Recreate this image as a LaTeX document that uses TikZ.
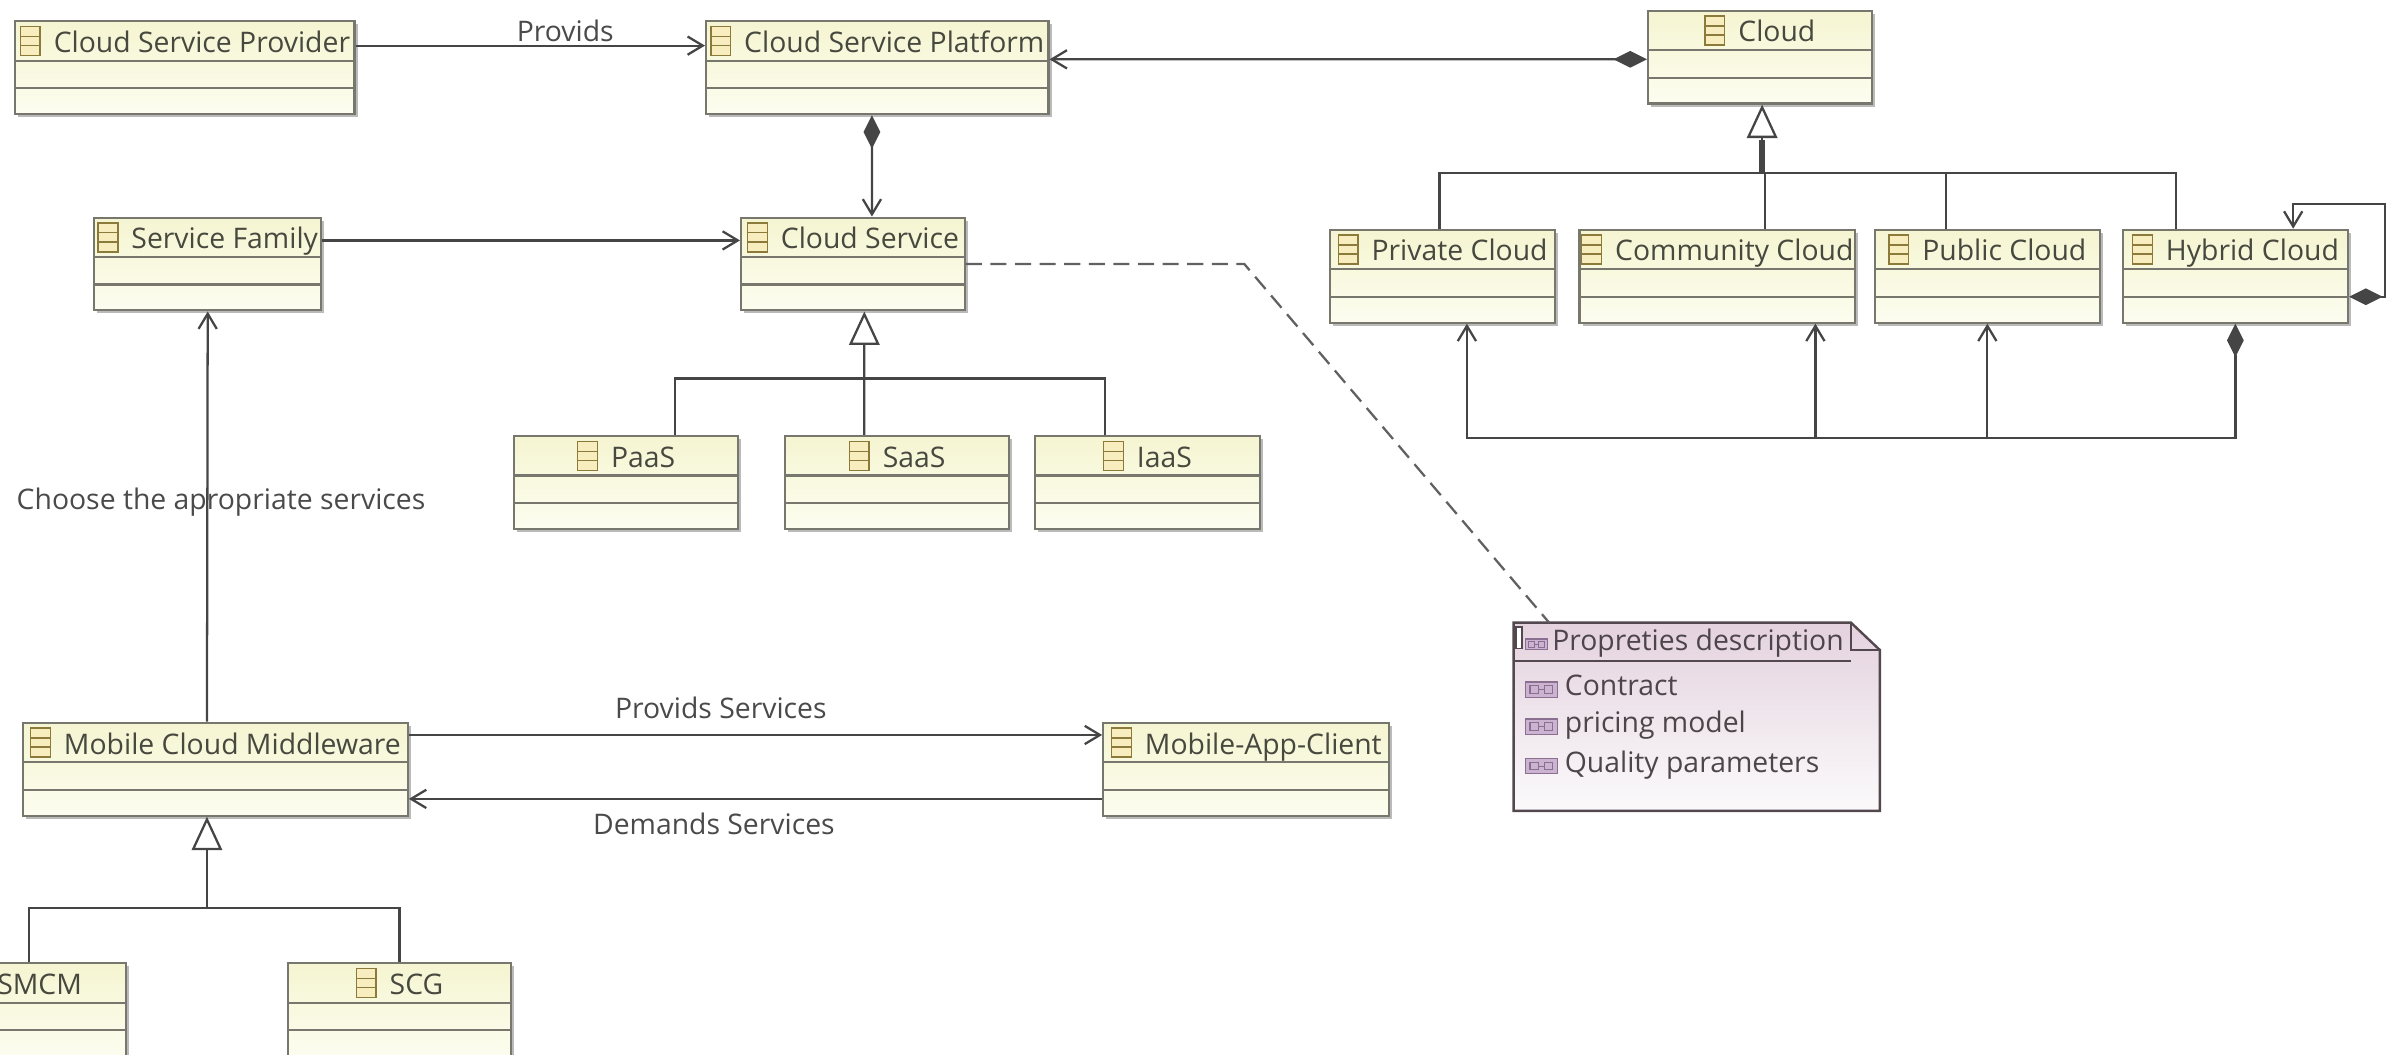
\documentclass[tikz,border=0pt]{standalone}
\usepackage{fontspec}
\setmainfont{Open Sans}
\usetikzlibrary{arrows.meta,positioning,shadows}

\definecolor{boxline}{HTML}{77776E}
\definecolor{boxtop}{HTML}{F5F5D2}
\definecolor{boxbottom}{HTML}{FDFDF0}
\definecolor{boxtext}{HTML}{47483E}
\definecolor{iconline}{HTML}{8C7A3A}
\definecolor{iconfill}{HTML}{F8EDBE}
\definecolor{linkline}{HTML}{454545}
\definecolor{linktext}{HTML}{4A4A4A}
\definecolor{notetop}{HTML}{E4D2DE}
\definecolor{notebottom}{HTML}{FBFAFB}
\definecolor{noteline}{HTML}{54484F}
\definecolor{notetext}{HTML}{4E454B}
\definecolor{attrline}{HTML}{8A6F90}
\definecolor{attrfill}{HTML}{CDB3D2}

\newcommand{\classicon}{\tikz[x=1cm,y=1cm,baseline=-.15cm]{
	\draw[iconline,fill=iconfill,line width=.5pt] (0,-.19) rectangle (.26,.19);
	\draw[iconline,line width=.5pt] (0,-.06) -- (.26,-.06) (0,.06) -- (.26,.06);}\hspace{.17cm}}
\newcommand{\attricon}[1]{\tikz[x=1cm,y=1cm,baseline=-.08cm,scale=#1]{
	\draw[attrline,fill=attrfill,line width=.5pt] (0,-.1) rectangle (.42,.1);
	\draw[attrline,line width=.4pt] (.06,-.05) rectangle (.17,.05) (.25,-.05) rectangle (.36,.05) (.17,0) -- (.25,0);}}

\tikzset{
	comp/.tip={Diamond[length=.44cm,width=.22cm]},
	gen/.tip={Triangle[open,length=.44cm,width=.4cm,fill=white]},
	>={Straight Barb[length=.2cm,width=.24cm]},
	classbox/.style={draw=boxline,
		line width=.8pt,
		top color=boxtop,
		bottom color=boxbottom,
		drop shadow={shadow xshift=.04cm,shadow yshift=-.04cm,fill=black!45,opacity=.6},
		text=boxtext,
		font=\fontsize{10.6}{12}\selectfont,
		inner sep=0pt,
		minimum width=#1,
		minimum height=1.22cm,
		text height=.41cm,
		text depth=.81cm,
		path picture={
			\draw[boxline,line width=.8pt] ([yshift=-.52cm]path picture bounding box.north west) -- ([yshift=-.52cm]path picture bounding box.north east);
			\draw[boxline,line width=.8pt] ([yshift=-.88cm]path picture bounding box.north west) -- ([yshift=-.88cm]path picture bounding box.north east);}},
	classbox/.default=2.96cm,
	link/.style={draw=linkline,line width=.85pt},
	linklabel/.style={text=linktext,font=\fontsize{10.6}{12}\selectfont,inner sep=1pt},
	noteitem/.style={text=notetext,font=\fontsize{10.6}{12}\selectfont,inner sep=0pt,anchor=west}
}

\begin{document}
\begin{tikzpicture}[on grid]

\clip (0,0) rectangle (31.36,-13.866);

% Cloud side
\node[classbox=4.46cm] at (2.43,-.89) (provider) {\classicon Cloud Service Provider};

\node[classbox=4.5cm,
	right=9.1cm of provider] (platform) {\classicon Cloud Service Platform};

\node[classbox=2.94cm,
	above right=.14cm and 11.6cm of platform] (cloud) {\classicon Cloud};

\node[classbox,
	below left=2.88cm and 4.17cm of cloud] (private) {\classicon Private Cloud};

\node[classbox=3.62cm,
	right=3.61cm of private] (community) {\classicon Community Cloud};

\node[classbox,
	right=3.55cm of community] (public) {\classicon Public Cloud};

\node[classbox,
	right=3.26cm of public] (hybrid) {\classicon Hybrid Cloud};

% Services
\node[classbox=2.94cm,
	below left=2.58cm and .32cm of platform] (service) {\classicon Cloud Service};

\node[classbox=2.98cm,
	left=8.48cm of service] (family) {\classicon Service Family};

\node[classbox=2.94cm,
	below left=2.87cm and 2.98cm of service] (paas) {\classicon PaaS};

\node[classbox=2.94cm,
	right=3.56cm of paas] (saas) {\classicon SaaS};

\node[classbox,
	right=3.29cm of saas] (iaas) {\classicon IaaS};

% Middleware
\node[classbox=5.06cm,
	below right=6.64cm and .1cm of family] (middleware) {\classicon Mobile Cloud Middleware};

\node[classbox=3.76cm,
	right=13.55cm of middleware] (client) {\classicon Mobile-App-Client};

\node[classbox=2.28cm,
	below left=3.16cm and 2.31cm of middleware] (smcm) {SMCM};

\node[classbox=2.94cm,
	right=4.73cm of smcm] (scg) {\classicon SCG};

% Note
\node[minimum width=4.8cm,
	minimum height=2.46cm,
	inner sep=0pt,
	above right=.69cm and 5.92cm of client] (note) {};

\shade[top color=notetop,bottom color=notebottom,draw=noteline,line width=.9pt]
	(note.north west) -- ([xshift=-.38cm]note.north east) -- ([yshift=-.36cm]note.north east)
	-- (note.south east) -- (note.south west) -- cycle;
\draw[noteline,line width=.8pt] ([xshift=-.38cm]note.north east) -- ([xshift=-.38cm,yshift=-.36cm]note.north east) -- ([yshift=-.36cm]note.north east);
\draw[noteline,line width=.8pt] ([yshift=-.5cm]note.north west) -- ([xshift=-.38cm,yshift=-.5cm]note.north east);
\draw[noteline,fill=white,line width=.5pt] ([xshift=.03cm,yshift=-.06cm]note.north west) rectangle ([xshift=.11cm,yshift=-.34cm]note.north west);

\node[noteitem,below right=.27cm and .14cm of note.north west,anchor=west] (notetitle)
	{\attricon{.7}\hspace{.05cm}Propreties description};
\node[noteitem,below right=.84cm and .14cm of note.north west,anchor=west] (contract)
	{\attricon{1}\hspace{.09cm}Contract};
\node[noteitem,below right=1.35cm and .14cm of note.north west,anchor=west] (pricing)
	{\attricon{1}\hspace{.09cm}pricing model};
\node[noteitem,below right=1.87cm and .14cm of note.north west,anchor=west] (quality)
	{\attricon{1}\hspace{.09cm}Quality parameters};

% connections
\draw[link,->] ([yshift=.29cm]provider.east) -- node[linklabel,pos=.6,above=0cm] (providslabel) {Provids} ([yshift=.29cm]platform.west);

\draw[link,comp->] ([yshift=-.03cm]cloud.west) -- ([yshift=.11cm]platform.east);

\draw[link,comp->] ([xshift=-.07cm]platform.south) -- ([xshift=.25cm]service.north);

\draw[link,->] ([yshift=.31cm]family.east) -- ([yshift=.31cm]service.west);

\coordinate[right=3.66cm of service.east] (notebend);
\draw[link,draw=linkline!85,dashed,dash pattern=on 6pt off 3.2pt] (service.east) -- (notebend) -- ([xshift=-1.94cm]note.north);

% generalisations
\coordinate (servicebar) at ([xshift=.15cm,yshift=-.88cm]service.south);
\draw[link,-{gen}] ([xshift=-.43cm]saas.north) -- ([xshift=.15cm]service.south);
\draw[link] ([xshift=.64cm]paas.north) |- (servicebar) -| ([xshift=-.56cm]iaas.north);

\coordinate (cloudbar) at ([xshift=.03cm,yshift=-.9cm]cloud.south);
\draw[link,-{gen}] (cloudbar) -- ([xshift=.03cm]cloud.south);
\draw[link,line width=2pt] (cloudbar) -- ([xshift=.03cm,yshift=-.46cm]cloud.south);
\draw[link] ([xshift=-.04cm]private.north) |- (cloudbar) -| ([xshift=-.78cm]hybrid.north);
\draw[link] ([xshift=.63cm]community.north) |- (cloudbar);
\draw[link] ([xshift=-.54cm]public.north) |- (cloudbar);

\coordinate (hybridbus) at ([yshift=-1.5cm]hybrid.south);
\draw[link,comp->] (hybrid.south) -- (hybridbus) -| ([xshift=.32cm]private.south);
\draw[link,->] (hybridbus) -| ([xshift=1.29cm]community.south);
\draw[link,->] (hybridbus) -| (public.south);

\draw[link,comp->] ([yshift=-.27cm]hybrid.east) -- ++(.48,0) |- ([xshift=.76cm,yshift=.32cm]hybrid.north) -- ([xshift=.76cm]hybrid.north);

% middleware links
\draw[link,->] ([xshift=-.11cm]middleware.north) -- node[linklabel,pos=.535,xshift=.18cm] (chooselabel) {Choose the apropriate services} (family.south);

\draw[link,->] ([yshift=.45cm]middleware.east) -- node[linklabel,pos=.45,above=.16cm] (provideslabel) {Provids Services} ([yshift=.45cm]client.west);

\draw[link,->] ([yshift=-.39cm]client.west) -- node[linklabel,pos=.56,below=.14cm] (demandslabel) {Demands Services} ([yshift=-.39cm]middleware.east);

\coordinate (middlewarebar) at ([xshift=-.11cm,yshift=-1.2cm]middleware.south);
\draw[link,-{gen}] (middlewarebar) -- ([xshift=-.11cm]middleware.south);
\draw[link] ([xshift=-.14cm]smcm.north) |- (middlewarebar) -| (scg.north);

\end{tikzpicture}
\end{document}
